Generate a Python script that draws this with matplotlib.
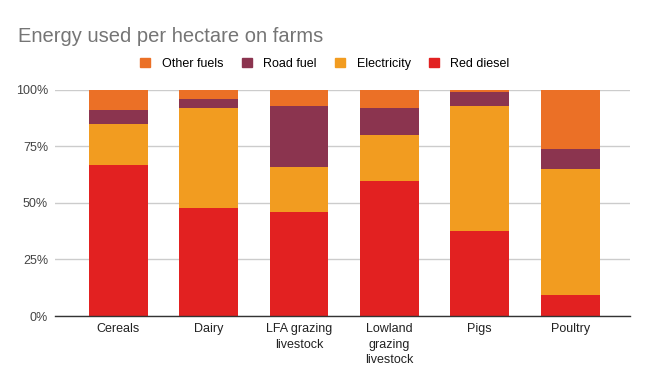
import matplotlib
matplotlib.use("Agg")
import matplotlib.pyplot as plt
import numpy as np
from matplotlib.ticker import FuncFormatter
from matplotlib.patches import Patch

categories = ["Cereals", "Dairy", "LFA grazing\nlivestock", "Lowland\ngrazing\nlivestock", "Pigs", "Poultry"]
red_diesel = [66.8, 47.9, 46.2, 59.9, 37.8, 9.1]
electricity = [18.2, 44.0, 19.7, 20.1, 55.1, 55.9]
road_fuel = [6.2, 4.0, 27.0, 11.9, 6.2, 8.8]
other_fuels = [8.8, 4.1, 7.1, 8.1, 0.9, 26.2]

series = [("Red diesel", red_diesel, "#E22121"),
          ("Electricity", electricity, "#F29C20"),
          ("Road fuel", road_fuel, "#8B344F"),
          ("Other fuels", other_fuels, "#EB7026")]

plt.rcParams['font.family'] = ['Liberation Sans', 'DejaVu Sans']
fig = plt.figure(figsize=(6.5, 3.84), dpi=100)
ax = fig.add_axes([0.0846, 0.177, 0.969 - 0.0846, 0.766 - 0.177])

x = np.arange(len(categories))
totals = np.sum([s[1] for s in series], axis=0)
bottom = np.zeros(len(categories))
for name, vals, col in series:
    v = np.array(vals) / totals * 100
    ax.bar(x, v, bottom=bottom, width=0.65, color=col, label=name, zorder=3)
    bottom += v

ax.set_xlim(-0.7, 5.66)
ax.set_ylim(0, 100)
ax.set_yticks([0, 25, 50, 75, 100])
ax.yaxis.set_major_formatter(FuncFormatter(lambda v, p: f"{int(v)}%"))
ax.grid(axis='y', color='#cccccc', linewidth=1, zorder=0)
ax.set_xticks(x)
ax.set_xticklabels(categories, fontsize=9, color='#222222', linespacing=1.4)
ax.tick_params(axis='y', labelsize=9, labelcolor='#444444', length=0, pad=5)
ax.tick_params(axis='x', length=0, pad=5)
for s in ['top', 'right', 'left']:
    ax.spines[s].set_visible(False)
ax.spines['bottom'].set_color('#333333')
ax.spines['bottom'].set_linewidth(1)
ax.spines['bottom'].set_zorder(4)

fig.text(0.028, 0.904, "Energy used per hectare on farms", fontsize=14.5, color='#757575',
         ha='left', va='center')

handles = [Patch(color=c, label=n) for n, _, c in series[::-1]]
fig.legend(handles=handles, loc='center', bbox_to_anchor=(0.5, 0.834), ncol=4, frameon=False,
           fontsize=9, handlelength=0.8, handleheight=0.8, handletextpad=0.9, columnspacing=1.5)

fig.savefig("out.png", dpi=100)
